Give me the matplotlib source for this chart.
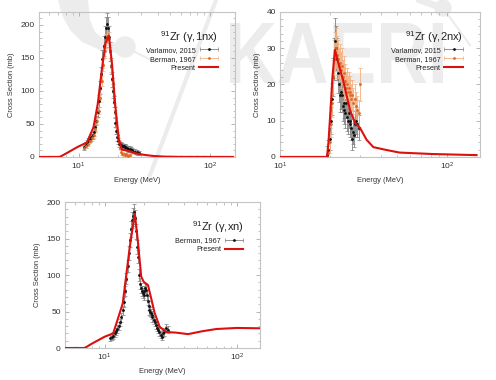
import matplotlib.pyplot as plt
from matplotlib.ticker import AutoMinorLocator, MultipleLocator
from matplotlib.textpath import TextPath
from matplotlib.patches import PathPatch, Circle, Polygon
from matplotlib.font_manager import FontProperties
from matplotlib.transforms import Affine2D
from matplotlib.legend_handler import HandlerErrorbar
from matplotlib.container import ErrorbarContainer

plt.rcParams['font.family'] = ['Liberation Sans', 'DejaVu Sans']
plt.rcParams['mathtext.fontset'] = 'custom'
plt.rcParams['mathtext.rm'] = 'Liberation Sans'

# ---------------- data ----------------
# (g,1nx) evaluation
e_1nx = [5, 7.2, 8.0, 9.8, 11.6, 13.0, 14.0, 15.0, 16.0, 17.0, 18.0, 19.0, 20.2, 21.4, 23.0, 25.0, 27.8, 32, 37, 45, 60, 150]
xs_1nx = [0, 0, 5, 15, 22, 45, 80, 130, 172, 184, 140, 80, 28, 11, 10, 8, 5, 3, 1.5, 0.5, 0.1, 0]

# Varlamov 2015, (g,1nx)
e_var1 = [11.0, 11.3, 11.6, 11.9, 12.2, 12.5, 12.8, 13.1, 13.4, 13.7, 14.0, 14.3, 14.6, 14.9,
          15.2, 15.5, 15.8, 16.1, 16.4, 16.7, 17.0, 17.3, 17.6, 17.9, 18.2, 18.5, 18.8, 19.1,
          19.4, 19.7, 20.0, 20.3, 20.6, 20.9, 21.2, 21.5, 21.8, 22.1, 22.4, 22.7, 23.0, 23.5,
          24.0, 24.5, 25.0, 25.5, 26.0, 27.0, 28.0, 29.0]
xs_var1 = [15, 18, 21, 24, 27, 30, 33, 38, 45, 55, 68, 85, 105, 125, 148, 168, 182, 195, 201, 196,
           182, 160, 138, 118, 100, 84, 68, 52, 40, 30, 24, 20, 19, 18, 17, 17, 16, 16, 15, 15,
           14, 13, 12, 12, 11, 10, 9, 8, 7, 6]

# Berman 1967, (g,1nx)
e_ber1 = [11.0, 11.4, 11.8, 12.2, 12.6, 13.0, 13.4, 13.8, 14.2, 14.6, 15.0, 15.4, 15.8, 16.2,
          16.6, 17.0, 17.4, 17.8, 18.2, 18.6, 19.0, 19.4, 19.8, 20.2, 20.6, 21.0, 21.5, 22.0,
          22.5, 23.0, 23.5, 24.0, 24.5]
xs_ber1 = [14, 17, 20, 24, 28, 33, 42, 54, 70, 90, 115, 140, 160, 176, 184, 178, 160, 138, 112,
           88, 66, 48, 34, 22, 14, 8, 5, 4, 3, 4, 3, 2, 3]

# (g,2nx) evaluation
e_2nx = [10, 19.1, 19.5, 20.0, 20.6, 21.3, 22.3, 23.9, 26.2, 28.1, 30.1, 33.0, 36.2, 43.5, 52,
         82, 150]
xs_2nx = [0, 0, 4, 12, 22, 29.5, 26, 21, 13, 9.4, 8, 4.7, 2.7, 1.9, 1.2, 0.8, 0.5]

# Varlamov 2015, (g,2nx)
e_var2 = [19.2, 19.5, 19.8, 20.1, 20.4, 20.7, 21.0, 21.3, 21.6, 21.9, 22.2, 22.5, 22.8, 23.1,
          23.4, 23.7, 24.0, 24.3, 24.6, 24.9, 25.2, 25.5, 25.8, 26.1, 26.4, 26.7, 27.0, 27.3,
          27.6, 28.0, 28.5, 29.0, 29.5]
xs_var2 = [0.5, 2, 5, 10, 16, 22, 27, 32, 30, 27, 23, 20, 17, 18, 17, 14, 15, 13, 12, 15, 11, 10,
           12, 9, 10, 8, 5, 7, 6, 9, 10, 9, 8]

# Berman 1967, (g,2nx)
e_ber2 = [19.5, 19.8, 20.1, 20.4, 20.7, 21.0, 21.3, 21.6, 21.9, 22.2, 22.5, 22.8, 23.1, 23.4,
          23.7, 24.0, 24.3, 24.6, 24.9, 25.2, 25.5, 25.8, 26.1, 26.4, 26.7, 27.0, 27.5, 28.0,
          28.5, 29.0, 29.5, 30.0]
xs_ber2 = [1, 4, 9, 15, 22, 27, 29, 30, 28, 27, 25, 26, 24, 25, 22, 23, 20, 21, 19, 20, 18, 19,
           17, 18, 16, 17, 15, 16, 14, 13, 12, 20]

# (g,xn) evaluation
e_xn = [5, 7.06, 8.0, 10.0, 11.6, 13.7, 15.5, 16.9, 17.9, 18.9, 19.7, 21.3, 23.9, 26.1, 29.3, 35,
        42.8, 55, 70, 100, 150]
xs_xn = [0, 0, 6, 15.5, 20, 61, 139, 184, 144, 98, 91, 86, 48, 29, 22, 21, 19, 23, 26, 27.5, 27]

# Berman 1967, (g,xn)
e_berx = [11.0, 11.3, 11.6, 11.9, 12.2, 12.5, 12.8, 13.1, 13.4, 13.7, 14.0, 14.3, 14.6, 14.9,
          15.2, 15.5, 15.8, 16.1, 16.4, 16.7, 17.0, 17.3, 17.6, 17.9, 18.2, 18.5, 18.8, 19.1,
          19.4, 19.7, 20.0, 20.3, 20.6, 20.9, 21.2, 21.5, 21.8, 22.1, 22.4, 22.7, 23.0, 23.5,
          24.0, 24.5, 25.0, 25.5, 26.0, 26.5, 27.0, 27.5, 28.0, 29.0, 30.0]
xs_berx = [14, 15, 17, 20, 23, 26, 30, 35, 42, 52, 63, 78, 95, 112, 130, 148, 163, 175, 181, 186,
           178, 160, 138, 125, 100, 88, 82, 78, 75, 72, 78, 82, 80, 72, 65, 58, 52, 50, 48, 45,
           42, 38, 35, 32, 28, 25, 22, 18, 15, 20, 22, 28, 25]


def yerr(vals, frac, base):
    return [v * frac + base for v in vals]


fig = plt.figure(figsize=(4.96, 3.8), dpi=100)
H = 380

# ---------------- watermark (pixel coords, top-left origin) ----------------
wm = '#ececec'
WZ = -5


def px(pts):
    return [(x, H - y) for x, y in pts]


crescent = [(58, 0), (62, 15), (70, 30), (82, 42), (100, 50), (118, 53),
            (120, 44), (105, 40), (95, 32), (90, 20), (88, 0)]
fig.patches.append(Polygon(px(crescent), closed=True, transform=None, color=wm, lw=0, zorder=WZ))
fig.patches.append(Circle((125, H - 47), 10, transform=None, color=wm, zorder=WZ))
fig.lines.append(plt.Line2D([125, 155], [H - 47, H - 62], transform=None, color=wm, lw=1.5, zorder=WZ))
fig.lines.append(plt.Line2D([216, 150], [H, H - 175], transform=None, color=wm, lw=3, zorder=WZ))
fig.lines.append(plt.Line2D([420, 442], [H, H - 8], transform=None, color=wm, lw=5, zorder=WZ))
fig.patches.append(Circle((443, H - 8), 8, transform=None, color=wm, zorder=WZ))
fig.lines.append(plt.Line2D([443, 470], [H - 8, H - 45], transform=None, color=wm, lw=1.5, zorder=WZ))
tp = TextPath((0, 0), 'KAERI', size=100, prop=FontProperties(family='Liberation Sans', weight='bold'))
bb = tp.get_extents()
tr = Affine2D().translate(-bb.x0, -bb.y0).scale(213 / bb.width, 60 / bb.height).translate(230, H - 83)
fig.patches.append(PathPatch(tr.transform_path(tp), transform=None, color=wm, lw=0, zorder=WZ))

axes_pos = [[0.0786, 0.587, 0.395, 0.382],
            [0.5645, 0.587, 0.403, 0.382],
            [0.131, 0.0842, 0.393, 0.384]]


def style(ax, xlim, ylim, major):
    ax.set_facecolor('none')
    ax.set_xscale('log')
    ax.set_xlim(*xlim)
    ax.set_ylim(*ylim)
    ax.yaxis.set_major_locator(MultipleLocator(major))
    ax.yaxis.set_minor_locator(AutoMinorLocator(5))
    for s in ax.spines.values():
        s.set_color('#c4c4c4')
        s.set_linewidth(0.8)
    ax.tick_params(which='both', direction='in', top=True, right=True, colors='#aaaaaa',
                   labelcolor='#333333', labelsize=6, pad=3)
    ax.tick_params(which='major', length=3, width=0.6)
    ax.tick_params(which='minor', length=1.8, width=0.5)
    ax.set_xlabel('Energy (MeV)', fontsize=5.4, color='#333333', labelpad=3)
    ax.set_ylabel('Cross Section (mb)', fontsize=5.4, color='#333333', labelpad=4)


def points(ax, e, xs, frac, base, col, ecol, label):
    return ax.errorbar(e, xs, yerr=yerr(xs, frac, base), xerr=[0.12] * len(e), fmt='.',
                       ms=2, color=col, ecolor=ecol, elinewidth=0.6, capsize=1.2,
                       capthick=0.5, label=label, zorder=3)


def legend(ax, handles, title):
    hmap = {ErrorbarContainer: HandlerErrorbar(xerr_size=1.25, yerr_size=0.0)}
    leg = ax.legend(handles=handles, title=title, loc='upper right', bbox_to_anchor=(0.915, 0.88),
                    frameon=False, markerfirst=False, fontsize=5.2, handlelength=2.6,
                    labelspacing=0.25, handletextpad=0.5, borderaxespad=0, borderpad=0,
                    handler_map=hmap)
    leg.get_title().set_fontsize(8)
    leg.get_title().set_color('#222222')
    leg._legend_box.align = 'right'
    for t in leg.get_texts():
        t.set_color('#222222')


red = '#dd1010'
blk = '#111111'
gry = '#808080'
org = '#e06a2a'
lorg = '#f2b080'

# panel 1
ax1 = fig.add_axes(axes_pos[0])
h1 = points(ax1, e_var1, xs_var1, 0.07, 3, blk, gry, 'Varlamov, 2015')
h2 = points(ax1, e_ber1, xs_ber1, 0.05, 2, org, lorg, 'Berman, 1967')
h3, = ax1.plot(e_1nx, xs_1nx, color=red, lw=1.5, label='Present', zorder=4)
style(ax1, (5, 155), (0, 220), 50)
legend(ax1, [h1, h2, h3], r'$^{91}$Zr (γ,1nx)')

# panel 2
ax2 = fig.add_axes(axes_pos[1])
h1 = points(ax2, e_var2, xs_var2, 0.12, 2.5, blk, gry, 'Varlamov, 2015')
h2 = points(ax2, e_ber2, xs_ber2, 0.1, 2.5, org, lorg, 'Berman, 1967')
h3, = ax2.plot(e_2nx, xs_2nx, color=red, lw=1.5, label='Present', zorder=4)
style(ax2, (10, 157), (0, 40), 10)
legend(ax2, [h1, h2, h3], r'$^{91}$Zr (γ,2nx)')

# panel 3
ax3 = fig.add_axes(axes_pos[2])
h1 = points(ax3, e_berx, xs_berx, 0.04, 4, blk, gry, 'Berman, 1967')
h3, = ax3.plot(e_xn, xs_xn, color=red, lw=1.5, label='Present', zorder=4)
style(ax3, (5, 150), (0, 200), 50)
legend(ax3, [h1, h3], r'$^{91}$Zr (γ,xn)')

fig.savefig('out.png', dpi=100)
